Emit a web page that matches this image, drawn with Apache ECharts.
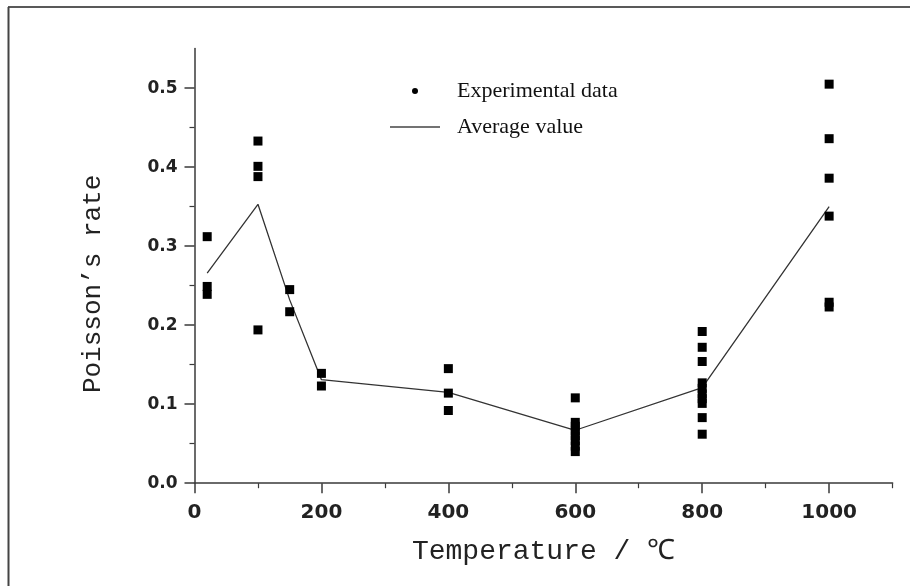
<!DOCTYPE html>
<html>
<head>
<meta charset="utf-8">
<script src="https://cdn.jsdelivr.net/npm/echarts@6/dist/echarts.min.js"></script>
<style>
html,body{margin:0;padding:0;background:#fff;}
#chart{width:910px;height:586px;}
</style>
</head>
<body>
<div id="chart"></div>
<script>
// Temperatures (°C) at which specimens were tested
const temperatures = [20, 100, 150, 200, 400, 600, 800, 1000];
// Experimental Poisson's rate values per temperature
const exp20   = [0.312, 0.249, 0.239];
const exp100  = [0.433, 0.401, 0.388, 0.194];
const exp150  = [0.245, 0.217];
const exp200  = [0.139, 0.123];
const exp400  = [0.145, 0.114, 0.092];
const exp600  = [0.108, 0.077, 0.072, 0.066, 0.060, 0.054, 0.047, 0.040];
const exp800  = [0.192, 0.172, 0.154, 0.127, 0.120, 0.113, 0.107, 0.101, 0.083, 0.062];
const exp1000 = [0.505, 0.436, 0.386, 0.338, 0.229, 0.223];
// Average value line
const averageValues = [0.266, 0.353, 0.232, 0.131, 0.115, 0.067, 0.121, 0.350];
// Axis ticks
const xMajorTicks = [0, 200, 400, 600, 800, 1000];
const xMinorTicks = [100, 300, 500, 700, 900, 1100];
const yMajorTicks = [0, 0.1, 0.2, 0.3, 0.4, 0.5];
const yMinorTicks = [0.05, 0.15, 0.25, 0.35, 0.45];

const expGroups = [exp20, exp100, exp150, exp200, exp400, exp600, exp800, exp1000];
const scatterData = [];
expGroups.forEach((g, i) => g.forEach(v => scatterData.push([temperatures[i], v])));
const lineData = temperatures.map((t, i) => [t, averageValues[i]]);

const axisColor = '#3a3a3a';
const chart = echarts.init(document.getElementById('chart'), null, {renderer: 'canvas'});
chart.setOption({
  animation: false,
  backgroundColor: '#fff',
  grid: {left: 194.5, right: 17.4, top: 48.6, bottom: 102.8},
  legend: {
    orient: 'vertical',
    left: 390,
    top: 80,
    padding: 0,
    itemWidth: 50,
    itemHeight: 6,
    itemGap: 14,
    selectedMode: false,
    textStyle: {fontFamily: 'Liberation Serif', fontSize: 22, color: '#111', lineHeight: 22, padding: [0, 0, 0, 12]},
    data: [
      {name: 'Experimental data', icon: 'circle', itemStyle: {color: '#000', opacity: 1}},
      {name: 'Average value', icon: 'path://M0,0L50,0L50,1.3L0,1.3Z', itemStyle: {color: '#444', opacity: 1}}
    ]
  },
  xAxis: [{
    type: 'value', min: 0, max: 1100, interval: 100,
    name: 'Temperature / ℃', nameLocation: 'middle', nameGap: 54,
    nameTextStyle: {fontFamily: 'Liberation Mono', fontSize: 28, color: '#222'},
    axisLine: {show: true, onZero: false, lineStyle: {color: axisColor, width: 1.5}},
    axisTick: {show: true, customValues: xMajorTicks, length: 10, lineStyle: {color: axisColor, width: 1.5}},
    axisLabel: {customValues: xMajorTicks, margin: 20, fontFamily: 'DejaVu Sans', fontWeight: 'bold', fontSize: 20, color: '#222',
      formatter: v => String(v)},
    splitLine: {show: false}
  }, {
    type: 'value', min: 0, max: 1100, interval: 100, position: 'bottom', offset: 0,
    axisLine: {show: false},
    axisTick: {show: true, customValues: xMinorTicks, length: 5, lineStyle: {color: axisColor, width: 1.2}},
    axisLabel: {show: false},
    splitLine: {show: false}
  }],
  yAxis: [{
    type: 'value', min: 0, max: 0.55, interval: 0.05,
    name: 'Poisson’s rate', nameLocation: 'middle', nameGap: 88,
    nameTextStyle: {fontFamily: 'Liberation Mono', fontSize: 26, color: '#222', padding: [0, 36, 0, 0]},
    axisLine: {show: true, onZero: false, lineStyle: {color: axisColor, width: 1.5}},
    axisTick: {show: true, customValues: yMajorTicks, length: 10, lineStyle: {color: axisColor, width: 1.5}},
    axisLabel: {customValues: yMajorTicks, margin: 17, fontFamily: 'DejaVu Sans', fontWeight: 'bold', fontSize: 17, color: '#222',
      formatter: v => v.toFixed(1)},
    splitLine: {show: false}
  }, {
    type: 'value', min: 0, max: 0.55, interval: 0.05, position: 'left', offset: 0,
    axisLine: {show: false},
    axisTick: {show: true, customValues: yMinorTicks, length: 5, lineStyle: {color: axisColor, width: 1.2}},
    axisLabel: {show: false},
    splitLine: {show: false}
  }],
  series: [{
    name: 'Experimental data',
    type: 'scatter',
    symbol: 'rect',
    symbolSize: 9,
    itemStyle: {color: '#000', opacity: 1},
    data: scatterData,
    z: 3
  }, {
    name: 'Average value',
    type: 'line',
    symbol: 'none',
    lineStyle: {color: '#333', width: 1.3},
    itemStyle: {color: '#333'},
    data: lineData,
    z: 2
  }],
  graphic: [
    {type: 'line', shape: {x1: 8, y1: 7, x2: 910, y2: 7}, style: {stroke: '#222', lineWidth: 1.5}, silent: true},
    {type: 'line', shape: {x1: 8.5, y1: 7, x2: 8.5, y2: 586}, style: {stroke: '#444', lineWidth: 2}, silent: true}
  ]
});
</script>
</body>
</html>
